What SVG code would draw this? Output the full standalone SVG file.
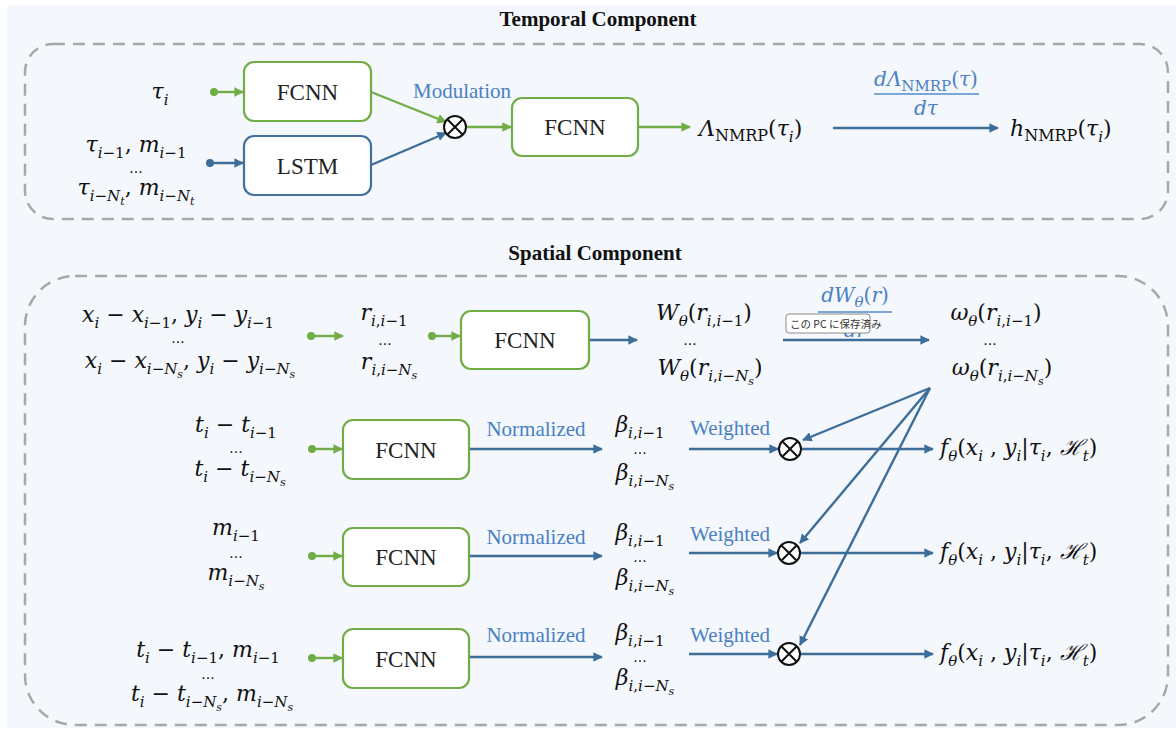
<svg xmlns="http://www.w3.org/2000/svg" width="1176" height="733" viewBox="0 0 1176 733">
  <defs>
    <style>
      .bg { fill: #f4f7fb; }
      .frame { fill: none; stroke: #a8a8a8; stroke-width: 2.5; stroke-dasharray: 12 8; }
      .title { font-family: "Liberation Serif", serif; font-weight: bold; font-size: 21px; fill: #111; }
      .gbox { fill: #ffffff; stroke: #70ad47; stroke-width: 2.2; }
      .bbox { fill: #ffffff; stroke: #41719c; stroke-width: 2.2; }
      .btxt { font-family: "Liberation Serif", serif; font-size: 23px; fill: #222; text-anchor: middle; }
      .m { font-family: "DejaVu Serif", serif; font-style: italic; font-size: 22px; fill: #111; }
      .u { font-style: normal; }
      .sub { font-size: 15px; }
      .nm { font-size: 16px; }
      .ss { font-size: 11px; }
      .dots { font-family: "DejaVu Sans", sans-serif; font-size: 14px; fill: #111; text-anchor: middle; }
      .lbl { font-family: "Liberation Serif", serif; font-size: 21px; fill: #4a80c4; text-anchor: middle; }
      .fr { font-family: "DejaVu Serif", serif; font-style: italic; font-size: 20px; fill: #4a80c4; text-anchor: middle; }
      .frline { stroke: #7aa7d8; stroke-width: 2; }
      .g { fill: none; stroke: #70ad47; stroke-width: 2.4; marker-end: url(#ag); }
      .gd { fill: none; stroke: #70ad47; stroke-width: 2.4; marker-start: url(#dg); marker-end: url(#ag); }
      .b { fill: none; stroke: #3d6e99; stroke-width: 2.4; marker-end: url(#ab); }
      .bd { fill: none; stroke: #3d6e99; stroke-width: 2.4; marker-start: url(#db); marker-end: url(#ab); }
      .ox circle { fill: #ffffff; stroke: #111; stroke-width: 2; }
      .ox path { stroke: #111; stroke-width: 2; }
    </style>
    <marker id="ag" viewBox="0 0 10 10" refX="9" refY="5" markerWidth="4" markerHeight="4" orient="auto" markerUnits="strokeWidth">
      <path d="M0,0 L10,5 L0,10 z" fill="#70ad47"/>
    </marker>
    <marker id="ab" viewBox="0 0 10 10" refX="9" refY="5" markerWidth="4" markerHeight="4" orient="auto" markerUnits="strokeWidth">
      <path d="M0,0 L10,5 L0,10 z" fill="#3d6e99"/>
    </marker>
    <marker id="dg" viewBox="0 0 10 10" refX="5" refY="5" markerWidth="3.4" markerHeight="3.4" orient="auto" markerUnits="strokeWidth">
      <circle cx="5" cy="5" r="5" fill="#70ad47"/>
    </marker>
    <marker id="db" viewBox="0 0 10 10" refX="5" refY="5" markerWidth="3.4" markerHeight="3.4" orient="auto" markerUnits="strokeWidth">
      <circle cx="5" cy="5" r="5" fill="#3d6e99"/>
    </marker>
    <g id="otimes" class="ox">
      <circle r="11"/>
      <path d="M-7.5,-7.5 L7.5,7.5 M7.5,-7.5 L-7.5,7.5"/>
    </g>
  </defs>

  <!-- page -->
  <rect width="1176" height="733" fill="#ffffff"/>
  <rect class="bg" x="7" y="5" width="1169" height="723"/>

  <!-- ===== Temporal component ===== -->
  <text class="title" x="598" y="26" text-anchor="middle">Temporal Component</text>
  <rect class="frame" x="25" y="44" width="1143" height="175" rx="28"/>

  <g id="connectors">
    <!-- temporal -->
    <path class="gd" d="M214,92 L243,92"/>
    <path class="bd" d="M210,163 L243,163"/>
    <path class="g" d="M371,92 L446,122"/>
    <path class="b" d="M371,165 L446,133"/>
    <path class="g" d="M467,127 L511,127"/>
    <path class="g" d="M638,127 L690,127"/>
    <path class="b" d="M833,128 L998,128"/>
    <!-- spatial row 1 -->
    <path class="gd" d="M311,336 L343,336"/>
    <path class="gd" d="M432,336 L460,336"/>
    <path class="b" d="M589,340 L637,340"/>
    <path class="b" d="M783,340 L929,340"/>
    <!-- spatial rows 2-4 -->
    <path class="gd" d="M312,449 L342,449"/>
    <path class="gd" d="M312,556 L342,556"/>
    <path class="gd" d="M312,658 L342,658"/>
    <path class="b" d="M469,449 L602,449"/>
    <path class="b" d="M469,556 L602,556"/>
    <path class="b" d="M469,657 L602,657"/>
    <path class="b" d="M689,449 L778,449"/>
    <path class="b" d="M689,553 L777,553"/>
    <path class="b" d="M689,654 L777,654"/>
    <path class="b" d="M802,449 L933,449"/>
    <path class="b" d="M801,553 L933,553"/>
    <path class="b" d="M801,654 L933,654"/>
    <!-- weights fan-out -->
    <path class="b" d="M930,388 L803,440"/>
    <path class="b" d="M930,388 L800,543"/>
    <path class="b" d="M930,388 L800,645"/>
  </g>

  <g id="t-in-tau">
    <text class="m" x="160" y="99" text-anchor="middle">τ<tspan class="sub" dy="6">i</tspan></text>
  </g>
  <g id="t-in-hist">
    <text class="m" x="136" y="152" text-anchor="middle">τ<tspan class="sub" dy="6">i<tspan class="u">−1</tspan></tspan><tspan class="u" dy="-6">, </tspan>m<tspan class="sub" dy="6">i<tspan class="u">−1</tspan></tspan></text>
    <text class="dots" x="136" y="173">...</text>
    <text class="m" x="136" y="195" text-anchor="middle">τ<tspan class="sub" dy="6">i<tspan class="u">−</tspan>N<tspan class="ss" dy="4">t</tspan></tspan><tspan class="u" dy="-10">, </tspan>m<tspan class="sub" dy="6">i<tspan class="u">−</tspan>N<tspan class="ss" dy="4">t</tspan></tspan></text>
  </g>
  <g id="t-fcnn1">
    <rect class="gbox" x="244" y="62" width="127" height="59" rx="10"/>
    <text class="btxt" x="307.5" y="100">FCNN</text>
  </g>
  <g id="t-lstm">
    <rect class="bbox" x="244" y="136" width="127" height="59" rx="10"/>
    <text class="btxt" x="307.5" y="174">LSTM</text>
  </g>
  <g id="t-mod">
    <text class="lbl" x="462" y="98">Modulation</text>
    <use href="#otimes" x="455" y="127"/>
  </g>
  <g id="t-fcnn2">
    <rect class="gbox" x="512" y="98" width="126" height="58" rx="10"/>
    <text class="btxt" x="575" y="135">FCNN</text>
  </g>
  <g id="t-cum">
    <text class="m" x="699" y="136">Λ<tspan class="nm u" dy="5">NMRP</tspan><tspan class="u" dy="-5">(</tspan>τ<tspan class="sub" dy="6">i</tspan><tspan class="u" dy="-6">)</tspan></text>
  </g>
  <g id="t-deriv">
    <text class="fr" x="926" y="86">dΛ<tspan class="sub u" dy="5">NMRP</tspan><tspan class="u" dy="-5">(</tspan>τ<tspan class="u">)</tspan></text>
    <line class="frline" x1="874" y1="94" x2="979" y2="94"/>
    <text class="fr" x="926" y="115">dτ</text>
  </g>
  <g id="t-hazard">
    <text class="m" x="1010" y="136">h<tspan class="nm u" dy="5">NMRP</tspan><tspan class="u" dy="-5">(</tspan>τ<tspan class="sub" dy="6">i</tspan><tspan class="u" dy="-6">)</tspan></text>
  </g>

  <!-- ===== Spatial component ===== -->
  <text class="title" x="595" y="260" text-anchor="middle">Spatial Component</text>
  <rect class="frame" x="25" y="276" width="1143" height="449" rx="50"/>

  <g id="s-in-xy">
    <text class="m" x="178" y="322" text-anchor="middle">x<tspan class="sub" dy="6">i</tspan><tspan class="u" dy="-6"> − </tspan>x<tspan class="sub" dy="6">i<tspan class="u">−1</tspan></tspan><tspan class="u" dy="-6">, </tspan>y<tspan class="sub" dy="6">i</tspan><tspan class="u" dy="-6"> − </tspan>y<tspan class="sub" dy="6">i<tspan class="u">−1</tspan></tspan></text>
    <text class="dots" x="178" y="343">...</text>
    <text class="m" x="190" y="368" text-anchor="middle">x<tspan class="sub" dy="6">i</tspan><tspan class="u" dy="-6"> − </tspan>x<tspan class="sub" dy="6">i<tspan class="u">−</tspan>N<tspan class="ss" dy="4">s</tspan></tspan><tspan class="u" dy="-10">, </tspan>y<tspan class="sub" dy="6">i</tspan><tspan class="u" dy="-6"> − </tspan>y<tspan class="sub" dy="6">i<tspan class="u">−</tspan>N<tspan class="ss" dy="4">s</tspan></tspan></text>
  </g>
  <g id="s-dist">
    <text class="m" x="384" y="320" text-anchor="middle">r<tspan class="sub" dy="6">i<tspan class="u">,</tspan>i<tspan class="u">−1</tspan></tspan></text>
    <text class="dots" x="385" y="345">...</text>
    <text class="m" x="389" y="369" text-anchor="middle">r<tspan class="sub" dy="6">i<tspan class="u">,</tspan>i<tspan class="u">−</tspan>N<tspan class="ss" dy="4">s</tspan></tspan></text>
  </g>
  <g id="s-fcnn1">
    <rect class="gbox" x="461" y="311" width="128" height="58" rx="10"/>
    <text class="btxt" x="525" y="348">FCNN</text>
  </g>
  <g id="s-W">
    <text class="m" x="704" y="320" text-anchor="middle">W<tspan class="sub" dy="6">θ</tspan><tspan class="u" dy="-6">(</tspan>r<tspan class="sub" dy="6">i<tspan class="u">,</tspan>i<tspan class="u">−1</tspan></tspan><tspan class="u" dy="-6">)</tspan></text>
    <text class="dots" x="690" y="345">...</text>
    <text class="m" x="710" y="375" text-anchor="middle">W<tspan class="sub" dy="6">θ</tspan><tspan class="u" dy="-6">(</tspan>r<tspan class="sub" dy="6">i<tspan class="u">,</tspan>i<tspan class="u">−</tspan>N<tspan class="ss" dy="4">s</tspan></tspan><tspan class="u" dy="-10">)</tspan></text>
  </g>
  <g id="s-deriv">
    <text class="fr" x="855" y="302">dW<tspan class="sub" dy="5">θ</tspan><tspan class="u" dy="-5">(</tspan>r<tspan class="u">)</tspan></text>
    <line class="frline" x1="818" y1="312" x2="892" y2="312"/>
    <text class="fr" x="855" y="337">dr</text>
  </g>
  <g id="s-omega">
    <text class="m" x="996" y="320" text-anchor="middle">ω<tspan class="sub" dy="6">θ</tspan><tspan class="u" dy="-6">(</tspan>r<tspan class="sub" dy="6">i<tspan class="u">,</tspan>i<tspan class="u">−1</tspan></tspan><tspan class="u" dy="-6">)</tspan></text>
    <text class="dots" x="990" y="345">...</text>
    <text class="m" x="1002" y="375" text-anchor="middle">ω<tspan class="sub" dy="6">θ</tspan><tspan class="u" dy="-6">(</tspan>r<tspan class="sub" dy="6">i<tspan class="u">,</tspan>i<tspan class="u">−</tspan>N<tspan class="ss" dy="4">s</tspan></tspan><tspan class="u" dy="-10">)</tspan></text>
  </g>
  <g id="tooltip">
    <rect x="786" y="314" width="84" height="19" rx="3" fill="#ffffff" stroke="#8a8a8a" stroke-width="1"/>
    <text x="790" y="328" font-family="Noto Sans CJK JP, sans-serif" font-size="10.5px" fill="#333">この PC に保存済み</text>
  </g>

  <!-- row 2: time gaps -->
  <g id="s-in-t">
    <text class="m" x="236" y="432" text-anchor="middle">t<tspan class="sub" dy="6">i</tspan><tspan class="u" dy="-6"> − </tspan>t<tspan class="sub" dy="6">i<tspan class="u">−1</tspan></tspan></text>
    <text class="dots" x="236" y="453">...</text>
    <text class="m" x="240" y="476" text-anchor="middle">t<tspan class="sub" dy="6">i</tspan><tspan class="u" dy="-6"> − </tspan>t<tspan class="sub" dy="6">i<tspan class="u">−</tspan>N<tspan class="ss" dy="4">s</tspan></tspan></text>
  </g>
  <g id="s-fcnn2">
    <rect class="gbox" x="343" y="420" width="126" height="59" rx="10"/>
    <text class="btxt" x="406" y="458">FCNN</text>
  </g>
  <g id="s-beta1">
    <text class="lbl" x="536" y="436">Normalized</text>
    <text class="m" x="640" y="432" text-anchor="middle">β<tspan class="sub" dy="6">i<tspan class="u">,</tspan>i<tspan class="u">−1</tspan></tspan></text>
    <text class="dots" x="640" y="454">...</text>
    <text class="m" x="645" y="480" text-anchor="middle">β<tspan class="sub" dy="6">i<tspan class="u">,</tspan>i<tspan class="u">−</tspan>N<tspan class="ss" dy="4">s</tspan></tspan></text>
  </g>
  <g id="s-mul1">
    <text class="lbl" x="730" y="435">Weighted</text>
    <use href="#otimes" x="790" y="449"/>
  </g>
  <g id="s-out1">
    <text class="m" x="940" y="455">f<tspan class="sub" dy="6">θ</tspan><tspan class="u" dy="-6">(</tspan>x<tspan class="sub" dy="6">i</tspan><tspan class="u" dy="-6"> , </tspan>y<tspan class="sub" dy="6">i</tspan><tspan class="u" dy="-6">|</tspan>τ<tspan class="sub" dy="6">i</tspan><tspan class="u" dy="-6">, </tspan>ℋ<tspan class="sub" dy="6">t</tspan><tspan class="u" dy="-6">)</tspan></text>
  </g>

  <!-- row 3: marks -->
  <g id="s-in-m">
    <text class="m" x="236" y="535" text-anchor="middle">m<tspan class="sub" dy="6">i<tspan class="u">−1</tspan></tspan></text>
    <text class="dots" x="236" y="558">...</text>
    <text class="m" x="236" y="580" text-anchor="middle">m<tspan class="sub" dy="6">i<tspan class="u">−</tspan>N<tspan class="ss" dy="4">s</tspan></tspan></text>
  </g>
  <g id="s-fcnn3">
    <rect class="gbox" x="343" y="528" width="126" height="58" rx="10"/>
    <text class="btxt" x="406" y="565">FCNN</text>
  </g>
  <g id="s-beta2">
    <text class="lbl" x="536" y="544">Normalized</text>
    <text class="m" x="640" y="540" text-anchor="middle">β<tspan class="sub" dy="6">i<tspan class="u">,</tspan>i<tspan class="u">−1</tspan></tspan></text>
    <text class="dots" x="640" y="562">...</text>
    <text class="m" x="645" y="585" text-anchor="middle">β<tspan class="sub" dy="6">i<tspan class="u">,</tspan>i<tspan class="u">−</tspan>N<tspan class="ss" dy="4">s</tspan></tspan></text>
  </g>
  <g id="s-mul2">
    <text class="lbl" x="730" y="541">Weighted</text>
    <use href="#otimes" x="789" y="553"/>
  </g>
  <g id="s-out2">
    <text class="m" x="940" y="559">f<tspan class="sub" dy="6">θ</tspan><tspan class="u" dy="-6">(</tspan>x<tspan class="sub" dy="6">i</tspan><tspan class="u" dy="-6"> , </tspan>y<tspan class="sub" dy="6">i</tspan><tspan class="u" dy="-6">|</tspan>τ<tspan class="sub" dy="6">i</tspan><tspan class="u" dy="-6">, </tspan>ℋ<tspan class="sub" dy="6">t</tspan><tspan class="u" dy="-6">)</tspan></text>
  </g>

  <!-- row 4: time gaps with marks -->
  <g id="s-in-tm">
    <text class="m" x="208" y="657" text-anchor="middle">t<tspan class="sub" dy="6">i</tspan><tspan class="u" dy="-6"> − </tspan>t<tspan class="sub" dy="6">i<tspan class="u">−1</tspan></tspan><tspan class="u" dy="-6">, </tspan>m<tspan class="sub" dy="6">i<tspan class="u">−1</tspan></tspan></text>
    <text class="dots" x="208" y="679">...</text>
    <text class="m" x="212" y="701" text-anchor="middle">t<tspan class="sub" dy="6">i</tspan><tspan class="u" dy="-6"> − </tspan>t<tspan class="sub" dy="6">i<tspan class="u">−</tspan>N<tspan class="ss" dy="4">s</tspan></tspan><tspan class="u" dy="-10">, </tspan>m<tspan class="sub" dy="6">i<tspan class="u">−</tspan>N<tspan class="ss" dy="4">s</tspan></tspan></text>
  </g>
  <g id="s-fcnn4">
    <rect class="gbox" x="343" y="629" width="126" height="59" rx="10"/>
    <text class="btxt" x="406" y="667">FCNN</text>
  </g>
  <g id="s-beta3">
    <text class="lbl" x="536" y="642">Normalized</text>
    <text class="m" x="640" y="640" text-anchor="middle">β<tspan class="sub" dy="6">i<tspan class="u">,</tspan>i<tspan class="u">−1</tspan></tspan></text>
    <text class="dots" x="640" y="662">...</text>
    <text class="m" x="645" y="685" text-anchor="middle">β<tspan class="sub" dy="6">i<tspan class="u">,</tspan>i<tspan class="u">−</tspan>N<tspan class="ss" dy="4">s</tspan></tspan></text>
  </g>
  <g id="s-mul3">
    <text class="lbl" x="730" y="642">Weighted</text>
    <use href="#otimes" x="789" y="654"/>
  </g>
  <g id="s-out3">
    <text class="m" x="940" y="660">f<tspan class="sub" dy="6">θ</tspan><tspan class="u" dy="-6">(</tspan>x<tspan class="sub" dy="6">i</tspan><tspan class="u" dy="-6"> , </tspan>y<tspan class="sub" dy="6">i</tspan><tspan class="u" dy="-6">|</tspan>τ<tspan class="sub" dy="6">i</tspan><tspan class="u" dy="-6">, </tspan>ℋ<tspan class="sub" dy="6">t</tspan><tspan class="u" dy="-6">)</tspan></text>
  </g>
</svg>
